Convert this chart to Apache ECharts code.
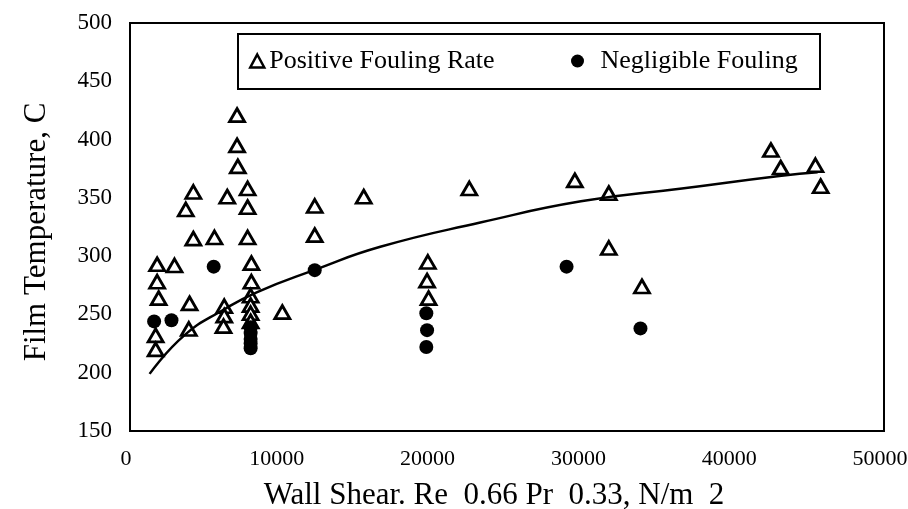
<!DOCTYPE html>
<html>
<head>
<meta charset="utf-8">
<script src="https://cdn.jsdelivr.net/npm/echarts@6/dist/echarts.min.js"></script>
<style>
  html, body { margin: 0; padding: 0; background: #fff; }
  #chart { width: 908px; height: 509px; }
</style>
</head>
<body>
<div id="chart"></div>
<script>
// Runs with a positive fouling rate (hollow triangles)
const positiveShear = [1800, 1800, 1900, 1700, 1700, 2950, 3700, 4200, 4200, 3950, 3900, 5600,
  6450, 6250, 6250, 6200, 7100, 7100, 7150, 7800, 7800, 7800, 8050, 8050, 8000, 8000, 8000, 8000,
  10100, 12250, 12250, 15500, 19750, 19700, 19800, 22500, 29500, 31750, 31750, 33950,
  42500, 43150, 45450, 45800];
const positiveTemp = [293, 278, 264, 232, 220, 292, 340, 355, 315, 259.5, 237.5, 316,
  351, 257, 249, 240, 421, 395, 377, 358, 342, 316, 294, 278, 266, 258, 251, 244,
  252, 343, 318, 351, 295, 279, 264, 358, 365, 354, 307, 274,
  391, 376, 378, 360];

// Runs with negligible fouling (filled circles)
const negligibleShear = [1600, 2750, 5550, 8000, 8000, 8000, 8000, 8000, 12250,
  19650, 19700, 19650, 28950, 33850];
const negligibleTemp = [244, 245, 291, 239, 234, 229, 225, 221, 288,
  251, 236.5, 222, 291, 238];

// Threshold curve separating the two regimes
const curveShear = [1300, 3600, 6200, 8400, 12200, 16600, 23300, 29900, 36600, 43200, 45600];
const curveTemp = [199, 232, 254, 269, 288, 308, 329, 347, 358, 369, 372];

const xTicks = { min: 0, max: 50000, step: 10000 };
const yTicks = { min: 150, max: 500, step: 50 };

const zip = (xs, ys) => xs.map((x, i) => [x, ys[i]]);
const serif = '"Liberation Serif", "Times New Roman", serif';

const chart = echarts.init(document.getElementById('chart'), null, { renderer: 'canvas' });
chart.setOption({
  backgroundColor: '#fff',
  animation: false,
  grid: {
    left: 130, right: 24, top: 23, bottom: 78,
    containLabel: false, outerBoundsMode: 'none',
    show: true, borderColor: '#000', borderWidth: 2, backgroundColor: 'transparent'
  },
  xAxis: {
    type: 'value',
    min: xTicks.min, max: xTicks.max, interval: xTicks.step,
    name: 'Wall Shear. Re  0.66 Pr  0.33, N/m  2',
    nameLocation: 'middle', nameGap: 49,
    nameTextStyle: { fontFamily: serif, fontSize: 31, color: '#000', padding: [0, 26, 0, 0] },
    axisLine: { show: true, lineStyle: { color: '#000', width: 2 } },
    axisTick: { show: false },
    splitLine: { show: false },
    axisLabel: { fontFamily: serif, fontSize: 22, color: '#000', margin: 17,
                 padding: [0, 8, 0, 0], formatter: v => String(v) }
  },
  yAxis: {
    type: 'value',
    min: yTicks.min, max: yTicks.max, interval: yTicks.step,
    name: 'Film Temperature, C',
    nameLocation: 'middle', nameGap: 78,
    nameTextStyle: { fontFamily: serif, fontSize: 31, color: '#000', padding: [0, 10, 0, 0] },
    axisLine: { show: true, lineStyle: { color: '#000', width: 2 } },
    axisTick: { show: false },
    splitLine: { show: false },
    axisLabel: { fontFamily: serif, fontSize: 23, color: '#000', margin: 18,
                 formatter: v => String(v) }
  },
  legend: [
    {
      data: [{ name: 'Positive Fouling Rate', icon: 'triangle',
               itemStyle: { color: '#fff', borderColor: '#000', borderWidth: 2.5, opacity: 1 } }],
      left: 249, top: 48, padding: 0,
      itemWidth: 14, itemHeight: 13,
      textStyle: { fontFamily: serif, fontSize: 26, color: '#000' }
    },
    {
      data: [{ name: 'Negligible Fouling', icon: 'circle',
               itemStyle: { color: '#000', borderWidth: 0, opacity: 1 } }],
      left: 571, top: 48, padding: 0,
      itemWidth: 36, itemHeight: 13,
      textStyle: { fontFamily: serif, fontSize: 26, color: '#000' }
    }
  ],
  graphic: [{
    type: 'rect', z: 100,
    shape: { x: 238, y: 34, width: 582, height: 55 },
    style: { fill: 'none', stroke: '#000', lineWidth: 2 }
  }],
  series: [
    {
      name: 'Positive Fouling Rate',
      type: 'scatter',
      symbol: 'triangle',
      symbolSize: [15, 13],
      itemStyle: { color: '#fff', borderColor: '#000', borderWidth: 2.8, opacity: 1 },
      data: zip(positiveShear, positiveTemp),
      z: 2
    },
    {
      name: 'Negligible Fouling',
      type: 'scatter',
      symbol: 'circle',
      symbolSize: 14,
      itemStyle: { color: '#000', opacity: 1 },
      data: zip(negligibleShear, negligibleTemp),
      z: 3
    },
    {
      name: 'Threshold',
      type: 'line',
      smooth: true,
      showSymbol: false,
      lineStyle: { color: '#000', width: 2.5 },
      data: zip(curveShear, curveTemp),
      z: 4
    }
  ]
});
</script>
</body>
</html>
